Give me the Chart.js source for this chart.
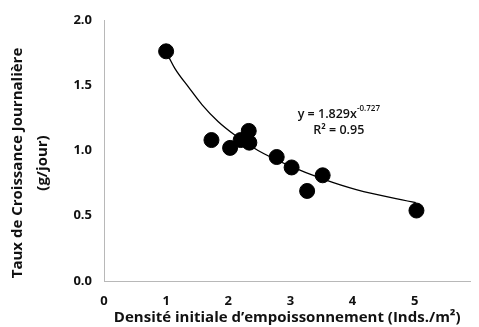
<!DOCTYPE html>
<html>
<head>
<meta charset="utf-8">
<script src="https://cdn.jsdelivr.net/npm/chart.js@4"></script>
<style>
  html, body { margin: 0; padding: 0; background: #fff; }
  #wrap { width: 479px; height: 327px; }
</style>
</head>
<body>
<div id="wrap"><canvas id="growth"></canvas></div>
<script>
// Observed growth rate vs stocking density
const densities = [1.0, 1.73, 2.03, 2.2, 2.33, 2.34, 2.78, 3.02, 3.27, 3.52, 5.03];
const growthRates = [1.76, 1.08, 1.02, 1.08, 1.15, 1.06, 0.95, 0.87, 0.69, 0.81, 0.54];

// Power trend line, as traced
const fitX = [1.05, 1.14, 1.37, 1.58, 1.84, 2.1, 2.48, 3.0, 3.53, 4.06, 5.02];
const fitY = [1.71, 1.63, 1.48, 1.35, 1.22, 1.12, 1.00, 0.88, 0.78, 0.70, 0.60];

const xTicks = [0, 1, 2, 3, 4, 5];
const yTicks = [0, 0.5, 1.0, 1.5, 2.0];

const fitLabel = { base: 'y = 1.829x', exp: '-0.727', r2: 'R² = 0.95' };
const yTitle = ['Taux de Croissance Journalière', '(g/jour)'];
const xTitle = 'Densité initiale d\u2019empoissonnement (Inds./m²)';

const FONT = '"Open Sans", Lato, sans-serif';

// equation, R² and the y axis title
const labelsPlugin = {
    id: 'labels',
    afterDraw(chart) {
        const { ctx, scales: { x, y } } = chart;
        ctx.save();
        ctx.fillStyle = '#111';
        ctx.textBaseline = 'middle';

        const cx = x.getPixelForValue(3.78);
        const cy = y.getPixelForValue(1.28);
        ctx.font = '600 12.5px ' + FONT;
        const wBase = ctx.measureText(fitLabel.base).width;
        ctx.font = '600 8px ' + FONT;
        const wExp = ctx.measureText(fitLabel.exp).width;
        const left = cx - (wBase + wExp) / 2;
        ctx.textAlign = 'left';
        ctx.font = '600 12.5px ' + FONT;
        ctx.fillText(fitLabel.base, left, cy);
        ctx.font = '600 8px ' + FONT;
        ctx.fillText(fitLabel.exp, left + wBase, cy - 5);
        ctx.font = '600 12.5px ' + FONT;
        ctx.textAlign = 'center';
        ctx.fillText(fitLabel.r2, cx, cy + 16);

        ctx.font = 'bold 15px ' + FONT;
        ctx.translate(18, 163);
        ctx.rotate(-Math.PI / 2);
        ctx.fillText(yTitle[0], 0, 0);
        ctx.fillText(yTitle[1], 0, 25);
        ctx.restore();
    }
};

const ctx = document.getElementById('growth').getContext('2d');
new Chart(ctx, {
    type: 'scatter',
    data: {
        datasets: [
            {
                label: 'Observé',
                data: densities.map((d, i) => ({ x: d, y: growthRates[i] })),
                backgroundColor: '#000',
                borderColor: '#000',
                pointRadius: 7.5,
                pointHoverRadius: 7.5,
                order: 1
            },
            {
                label: 'Tendance',
                type: 'line',
                data: fitX.map((d, i) => ({ x: d, y: fitY[i] })),
                borderColor: '#000',
                borderWidth: 1.3,
                pointRadius: 0,
                fill: false,
                cubicInterpolationMode: 'monotone',
                order: 2
            }
        ]
    },
    options: {
        responsive: true,
        maintainAspectRatio: false,
        animation: false,
        layout: { padding: { top: 20, right: 4, left: 0, bottom: 0 } },
        plugins: {
            legend: { display: false },
            tooltip: { enabled: false }
        },
        scales: {
            x: {
                type: 'linear',
                min: 0,
                max: 5.9,
                afterBuildTicks: s => { s.ticks = xTicks.map(v => ({ value: v })); },
                afterFit: s => { s.height = 46; },
                grid: { display: false, drawTicks: false },
                border: { display: true, color: '#b8b8b8', dash: [1, 3], width: 1 },
                ticks: {
                    color: '#111',
                    padding: 12,
                    font: { family: FONT, size: 13, weight: 'bold' }
                },
                title: {
                    display: true,
                    text: xTitle,
                    color: '#111',
                    padding: { top: 0, bottom: 0 },
                    font: { family: FONT, size: 15, weight: 'bold' }
                }
            },
            y: {
                type: 'linear',
                min: 0,
                max: 2,
                afterBuildTicks: s => { s.ticks = yTicks.map(v => ({ value: v })); },
                afterFit: s => { s.width = 104; },
                grid: { display: false, drawTicks: false },
                border: { display: true, color: '#b8b8b8', dash: [1, 3], width: 1 },
                ticks: {
                    color: '#111',
                    padding: 12,
                    font: { family: FONT, size: 13, weight: 'bold' },
                    callback: v => v.toFixed(1)
                }
            }
        }
    },
    plugins: [labelsPlugin]
});
</script>
</body>
</html>
